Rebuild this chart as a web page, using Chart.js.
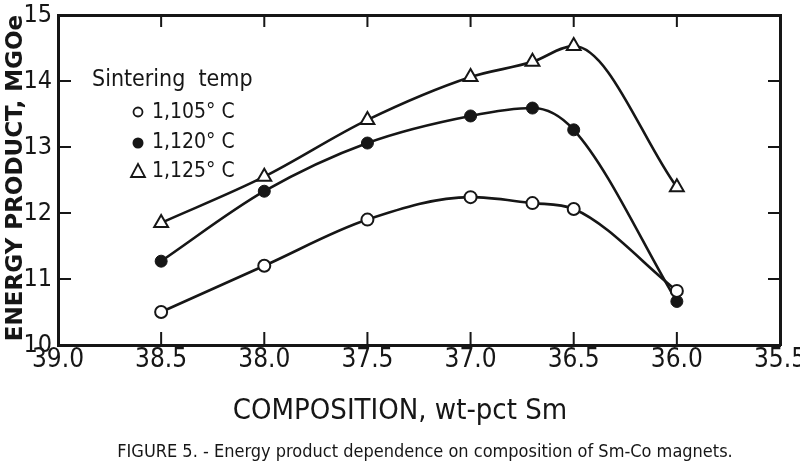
<!DOCTYPE html>
<html>
<head>
<meta charset="utf-8">
<script src="https://cdn.jsdelivr.net/npm/chart.js@4.4.1/dist/chart.umd.min.js"></script>
<style>
  html, body { margin: 0; background: #fff; }
  #c { display: block; }
</style>
</head>
<body>
<canvas id="c" width="800" height="474"></canvas>
<script>
// Состав, wt-pct Sm (ось X идёт справа налево: от 39.0 к 35.5)
const compositions = [38.5, 38.0, 37.5, 37.0, 36.7, 36.5, 36.0];
const temp1105 = [10.5, 11.2, 11.9, 12.24, 12.15, 12.06, 10.82];
const temp1120 = [11.27, 12.33, 13.06, 13.47, 13.59, 13.26, 10.66];
const temp1125 = [11.85, 12.55, 13.41, 14.06, 14.29, 14.53, 12.39];
const seriesLabels = ['1,105° C', '1,120° C', '1,125° C'];
const xTicks = [39.0, 38.5, 38.0, 37.5, 37.0, 36.5, 36.0, 35.5];
const yTicks = [10, 11, 12, 13, 14, 15];

const INK = '#161616';
const NARROW = "'DejaVu Sans Condensed', 'Liberation Sans Narrow', 'Roboto Condensed', 'DejaVu Sans', sans-serif";

function toPoints(ys) {
  return compositions.map((x, i) => ({ x, y: ys[i] }));
}

// засечки внутрь, легенда внутри поля, подписи осей
const annotations = {
  id: 'annotations',
  afterDraw(chart) {
    const { ctx, chartArea: a } = chart;
    const sx = chart.scales.x, sy = chart.scales.y;
    ctx.save();
    ctx.strokeStyle = INK;
    ctx.fillStyle = INK;

    ctx.lineWidth = 2;
    for (const v of xTicks.slice(1, -1)) {
      const px = sx.getPixelForValue(v);
      ctx.beginPath();
      ctx.moveTo(px, a.bottom); ctx.lineTo(px, a.bottom - 13);
      ctx.moveTo(px, a.top); ctx.lineTo(px, a.top + 12);
      ctx.stroke();
    }
    for (const v of yTicks.slice(1, -1)) {
      const py = sy.getPixelForValue(v);
      ctx.beginPath();
      ctx.moveTo(a.left, py); ctx.lineTo(a.left + 13, py);
      ctx.moveTo(a.right, py); ctx.lineTo(a.right - 12, py);
      ctx.stroke();
    }

    ctx.textBaseline = 'middle';
    ctx.textAlign = 'left';
    ctx.font = "23px " + NARROW;
    ctx.fillText('Sintering  temp', 92, 80);

    const rows = [113, 143, 172];
    ctx.font = "21px " + NARROW;
    rows.forEach((y, i) => {
      ctx.lineWidth = 1.8;
      const mx = 138;
      if (i === 0) {
        ctx.beginPath(); ctx.arc(mx, y - 1, 4.5, 0, Math.PI * 2);
        ctx.fillStyle = '#fff'; ctx.fill(); ctx.stroke();
      } else if (i === 1) {
        ctx.beginPath(); ctx.arc(mx, y, 5.5, 0, Math.PI * 2);
        ctx.fillStyle = INK; ctx.fill();
      } else {
        ctx.beginPath();
        ctx.moveTo(mx, y - 8); ctx.lineTo(mx + 7, y + 5); ctx.lineTo(mx - 7, y + 5);
        ctx.closePath(); ctx.stroke();
      }
      ctx.fillStyle = INK;
      ctx.fillText(seriesLabels[i], 152, y);
    });

    ctx.font = "bold 23px 'DejaVu Sans', sans-serif";
    ctx.textAlign = 'center';
    ctx.save();
    ctx.translate(16, 178);
    ctx.rotate(-Math.PI / 2);
    ctx.fillText('ENERGY PRODUCT, MGOe', 0, 0);
    ctx.restore();

    ctx.font = "29px " + NARROW;
    ctx.fillText('COMPOSITION, wt-pct Sm', 400, 411);

    ctx.font = "18px " + NARROW;
    ctx.fillText('FIGURE 5. - Energy product dependence on composition of Sm-Co magnets.', 425, 452);
    ctx.restore();
  }
};

const frameAxis = (position, size) => ({
  type: 'linear',
  position,
  display: true,
  grid: { display: false, drawTicks: false },
  border: { display: true, color: INK, width: 3 },
  ticks: { display: false },
  afterFit: s => {
    if (position === 'top') s.height = size; else s.width = size;
  }
});

const lineStyle = {
  borderColor: INK,
  borderWidth: 2.6,
  cubicInterpolationMode: 'monotone',
  pointBorderColor: INK
};

new Chart(document.getElementById('c'), {
  type: 'line',
  data: {
    datasets: [
      Object.assign({
        label: seriesLabels[0],
        data: toPoints(temp1105),
        pointStyle: 'circle',
        pointRadius: 6,
        pointBorderWidth: 2,
        pointBackgroundColor: '#fff'
      }, lineStyle),
      Object.assign({
        label: seriesLabels[1],
        data: toPoints(temp1120),
        pointStyle: 'circle',
        pointRadius: 6,
        pointBorderWidth: 1,
        pointBackgroundColor: INK
      }, lineStyle),
      Object.assign({
        label: seriesLabels[2],
        data: toPoints(temp1125),
        pointStyle: 'triangle',
        pointRadius: 8,
        pointBorderWidth: 2,
        pointBackgroundColor: '#fff'
      }, lineStyle)
    ]
  },
  options: {
    responsive: false,
    animation: false,
    events: [],
    layout: { padding: 0 },
    plugins: {
      legend: { display: false },
      tooltip: { enabled: false }
    },
    scales: {
      x: {
        type: 'linear',
        reverse: true,
        min: 35.5,
        max: 39.0,
        grid: { display: false, drawTicks: false },
        border: { color: INK, width: 3 },
        afterBuildTicks: s => { s.ticks = xTicks.map(v => ({ value: v })); },
        ticks: {
          padding: 0,
          color: INK,
          maxRotation: 0,
          font: { family: NARROW, size: 26 },
          callback: v => Number(v).toFixed(1)
        },
        afterFit: s => {
          s.height = 129;
          s.paddingLeft = 0;
          s.paddingRight = 0;
        }
      },
      y: {
        type: 'linear',
        min: 10,
        max: 15,
        grid: { display: false, drawTicks: false },
        border: { color: INK, width: 3 },
        afterBuildTicks: s => { s.ticks = yTicks.map(v => ({ value: v })); },
        ticks: {
          padding: 6,
          color: INK,
          font: { family: NARROW, size: 25 },
          callback: v => String(v)
        },
        afterFit: s => {
          s.width = 58;
          s.paddingTop = 0;
          s.paddingBottom = 0;
        }
      },
      x2: Object.assign(frameAxis('top', 15), { min: 35.5, max: 39.0, reverse: true }),
      y2: Object.assign(frameAxis('right', 20), { min: 10, max: 15 })
    }
  },
  plugins: [annotations]
});
</script>
</body>
</html>
